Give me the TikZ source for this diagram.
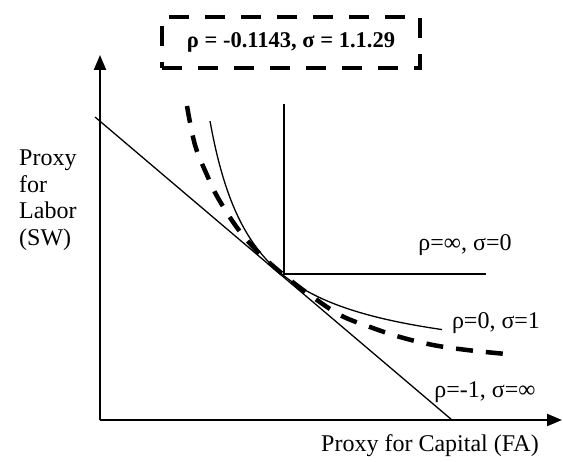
\documentclass[tikz,border=0pt]{standalone}
\usepackage{fontspec}
\setmainfont{Liberation Serif}
\usetikzlibrary{arrows.meta}
\begin{document}
\begin{tikzpicture}[x=1pt,y=-1pt,
  lab/.style={font=\fontsize{24}{26.5}\selectfont, inner sep=0pt},
  axis/.style={line width=2.2pt, -{Triangle[length=15pt,width=12pt]}},
  thinline/.style={line width=1.3pt},
  dashcurve/.style={line width=4.5pt, dash pattern=on 17pt off 13pt},
  boxst/.style={draw, line width=4.5pt, dash pattern=on 20pt off 16pt,
    minimum width=258pt, minimum height=51pt, inner sep=0pt,
    font=\fontsize{22.5}{26}\selectfont\bfseries}]
\useasboundingbox (0,0) rectangle (563,462);
% axes
\coordinate (O) at (100,420);
\coordinate (Ytip) at (100,55);
\coordinate (Xtip) at (562,420);
\draw[axis] (O) -- (Ytip);
\draw[axis] (O) -- (Xtip);
% perfect substitutes line
\coordinate (L1) at (95,117);
\coordinate (L2) at (452,420);
\draw[thinline] (L1) -- (L2);
% Leontief
\coordinate (V) at (284,104);
\coordinate (C) at (284,274);
\coordinate (H) at (486,274);
\draw[thinline] (V) -- (C) -- (H);
% Cobb-Douglas
\draw[thinline] plot[domain=210:442, samples=80, smooth] (\x, {370-11200/(\x-165)});
% estimated CES
\draw[dashcurve] plot[smooth, tension=0.6] coordinates {(187,106) (195,145) (207,175) (218,198) (238,229) (260,254) (285,276) (310,295) (340,315) (370,327) (400,337) (433,345) (467,350) (506,354)};
% labels
\node[boxst] (box) at (291,42.5) {ρ = -0.1143, σ = 1.1.29};
\node[lab, align=left, anchor=north west] (ylab) at (19,150) {Proxy\\for\\Labor\\(SW)};
\node[lab] (xlab) at (430,446) {Proxy for Capital (FA)};
\node[lab] (l1) at (465,245) {ρ=∞, σ=0};
\node[lab] (l2) at (496,323) {ρ=0, σ=1};
\node[lab] (l3) at (485,392) {ρ=-1, σ=∞};
\end{tikzpicture}
\end{document}
